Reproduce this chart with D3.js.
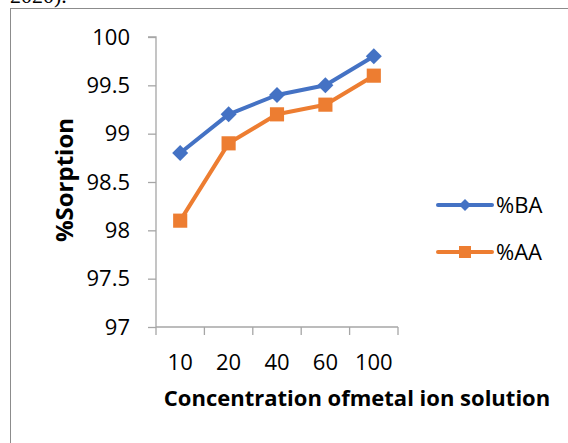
<!DOCTYPE html>
<html>
<head>
<meta charset="utf-8">
<script src="https://cdn.jsdelivr.net/npm/d3@7"></script>
<style>
  body { margin: 0; background: #fff; }
  svg { display: block; }
  .tick text { font-family: "Open Sans", "Liberation Sans", sans-serif; font-size: 22px; fill: #000; }
</style>
</head>
<body>
<svg id="chart" width="568" height="443"></svg>
<script>
const categories = ["10", "20", "40", "60", "100"];
const baValues = [98.8, 99.2, 99.4, 99.5, 99.8];
const aaValues = [98.1, 98.9, 99.2, 99.3, 99.6];
const yTicks = [97, 97.5, 98, 98.5, 99, 99.5, 100];

// diamond = square turned 45 degrees
const series = [
  { name: "%BA", values: baValues, color: "#4472C4", rotate: 45, size: 128, legendSize: 72 },
  { name: "%AA", values: aaValues, color: "#ED7D31", rotate: 0, size: 200, legendSize: 144 }
];

const svg = d3.select("#chart");
const axisColor = "#a6a6a6";

// caption fragment above the frame (top half falls outside the picture)
svg.append("text")
  .attr("x", 10).attr("y", 3)
  .attr("font-family", "Liberation Serif, serif")
  .attr("font-size", 22)
  .text("2020).");

// frame (right and bottom edges fall outside the picture)
svg.append("rect")
  .attr("x", 10.5).attr("y", 8.5)
  .attr("width", 600).attr("height", 480)
  .attr("fill", "#fff")
  .attr("stroke", "#8c8c8c");

const x = d3.scaleBand().domain(categories).range([156, 398]);
const y = d3.scaleLinear().domain([97, 100]).range([327, 37]);

// y axis
const yAxis = svg.append("g")
  .attr("transform", "translate(156,0)")
  .call(d3.axisLeft(y).tickValues(yTicks).tickSize(8).tickPadding(18).tickFormat(d3.format("")));
yAxis.selectAll("line, path").attr("stroke", axisColor).attr("stroke-width", 1.3);
yAxis.select(".domain").attr("d", `M-8,${y(100)}H0V${y(97)}`);

// x axis
const xAxis = svg.append("g")
  .attr("transform", "translate(0,327)")
  .call(d3.axisBottom(x).tickSize(0).tickPadding(27));
xAxis.select(".domain").attr("stroke", axisColor).attr("stroke-width", 1.3)
  .attr("d", `M156,0H398`);
xAxis.selectAll(".tick line").remove();
xAxis.selectAll(".sep")
  .data(d3.range(categories.length + 1))
  .enter().append("line")
  .attr("x1", i => 156 + i * x.step()).attr("x2", i => 156 + i * x.step())
  .attr("y1", 0).attr("y2", 8)
  .attr("stroke", axisColor).attr("stroke-width", 1.3);

// lines and markers
const line = d3.line()
  .x((d, i) => x(categories[i]) + x.bandwidth() / 2)
  .y(d => y(d));

series.forEach(s => {
  svg.append("path")
    .datum(s.values)
    .attr("d", line)
    .attr("fill", "none")
    .attr("stroke", s.color)
    .attr("stroke-width", 4)
    .attr("stroke-linejoin", "round");
  svg.selectAll(null)
    .data(s.values)
    .enter().append("path")
    .attr("transform", (d, i) => `translate(${x(categories[i]) + x.bandwidth() / 2},${y(d)}) rotate(${s.rotate})`)
    .attr("d", d3.symbol().type(d3.symbolSquare).size(s.size))
    .attr("fill", s.color);
});

// axis titles
svg.append("text")
  .attr("x", 357).attr("y", 406)
  .attr("text-anchor", "middle")
  .attr("font-family", "Open Sans, sans-serif")
  .attr("font-weight", "bold")
  .attr("font-size", 22)
  .text("Concentration ofmetal ion solution");

svg.append("text")
  .attr("transform", "translate(73,180) rotate(-90)")
  .attr("text-anchor", "middle")
  .attr("font-family", "Open Sans, sans-serif")
  .attr("font-weight", "bold")
  .attr("font-size", 24)
  .text("%Sorption");

// legend
const legend = svg.selectAll(".legend")
  .data(series)
  .enter().append("g")
  .attr("transform", (d, i) => `translate(438,${205 + i * 47})`);
legend.append("line")
  .attr("x1", 0).attr("x2", 54)
  .attr("stroke", d => d.color).attr("stroke-width", 4)
  .attr("stroke-linecap", "round");
legend.append("path")
  .attr("transform", d => `translate(27,0) rotate(${d.rotate})`)
  .attr("d", d => d3.symbol().type(d3.symbolSquare).size(d.legendSize)())
  .attr("fill", d => d.color);
legend.append("text")
  .attr("x", 58).attr("y", 8)
  .attr("font-family", "Open Sans, sans-serif")
  .attr("font-size", 22)
  .text(d => d.name);
</script>
</body>
</html>
